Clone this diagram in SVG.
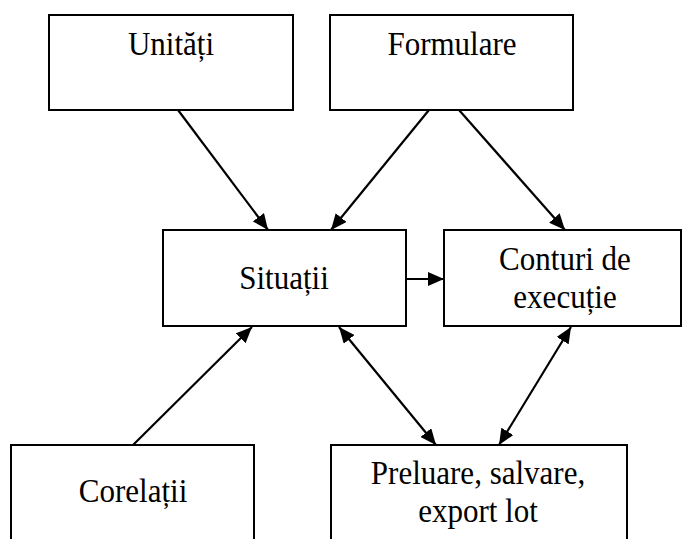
<svg xmlns="http://www.w3.org/2000/svg" width="683" height="539" viewBox="0 0 683 539">
<style>
.box{fill:#fff;stroke:#000;stroke-width:2}
.t{font-family:"Liberation Serif","Times New Roman",serif;font-size:33px;fill:#000;text-anchor:middle}
.c{stroke:#000;stroke-width:2.2;fill:none}
</style>
<defs>
<marker id="ah" markerUnits="userSpaceOnUse" markerWidth="18" markerHeight="14" refX="16" refY="7" orient="auto-start-reverse">
<path d="M0,0 L16,7 L0,14 Z" fill="#000"/>
</marker>
</defs>
<rect width="683" height="539" fill="#fff"/>
<g id="unitati"><rect class="box" x="49" y="15" width="244" height="95"/><text class="t" transform="translate(171,55) scale(0.94,1)">Unități</text></g>
<g id="formulare"><rect class="box" x="330" y="15" width="243" height="95"/><text class="t" transform="translate(452,55) scale(0.94,1)">Formulare</text></g>
<g id="situatii"><rect class="box" x="163" y="230" width="243" height="96"/><text class="t" transform="translate(284,289) scale(0.94,1)">Situații</text></g>
<g id="conturi"><rect class="box" x="444" y="230" width="237" height="96"/><text class="t" transform="translate(565,270) scale(0.94,1)">Conturi de</text><text class="t" transform="translate(565,308) scale(0.94,1)">execuție</text></g>
<g id="corelatii"><rect class="box" x="11" y="445" width="243" height="100"/><text class="t" transform="translate(133,502) scale(0.94,1)">Corelații</text></g>
<g id="preluare"><rect class="box" x="331" y="445" width="296" height="100"/><text class="t" transform="translate(478,484) scale(0.94,1)">Preluare, salvare,</text><text class="t" transform="translate(478,522) scale(0.94,1)">export lot</text></g>
<g id="connectors">
<line class="c" x1="178" y1="110" x2="268" y2="230" marker-end="url(#ah)"/>
<line class="c" x1="429" y1="110" x2="331" y2="230" marker-end="url(#ah)"/>
<line class="c" x1="459" y1="110" x2="565" y2="230" marker-end="url(#ah)"/>
<line class="c" x1="406" y1="279" x2="444" y2="279" marker-end="url(#ah)"/>
<line class="c" x1="133" y1="445" x2="252" y2="327" marker-end="url(#ah)"/>
<line class="c" x1="339" y1="327" x2="436" y2="445" marker-start="url(#ah)" marker-end="url(#ah)"/>
<line class="c" x1="571" y1="327" x2="499" y2="445" marker-start="url(#ah)" marker-end="url(#ah)"/>
</g>
</svg>
